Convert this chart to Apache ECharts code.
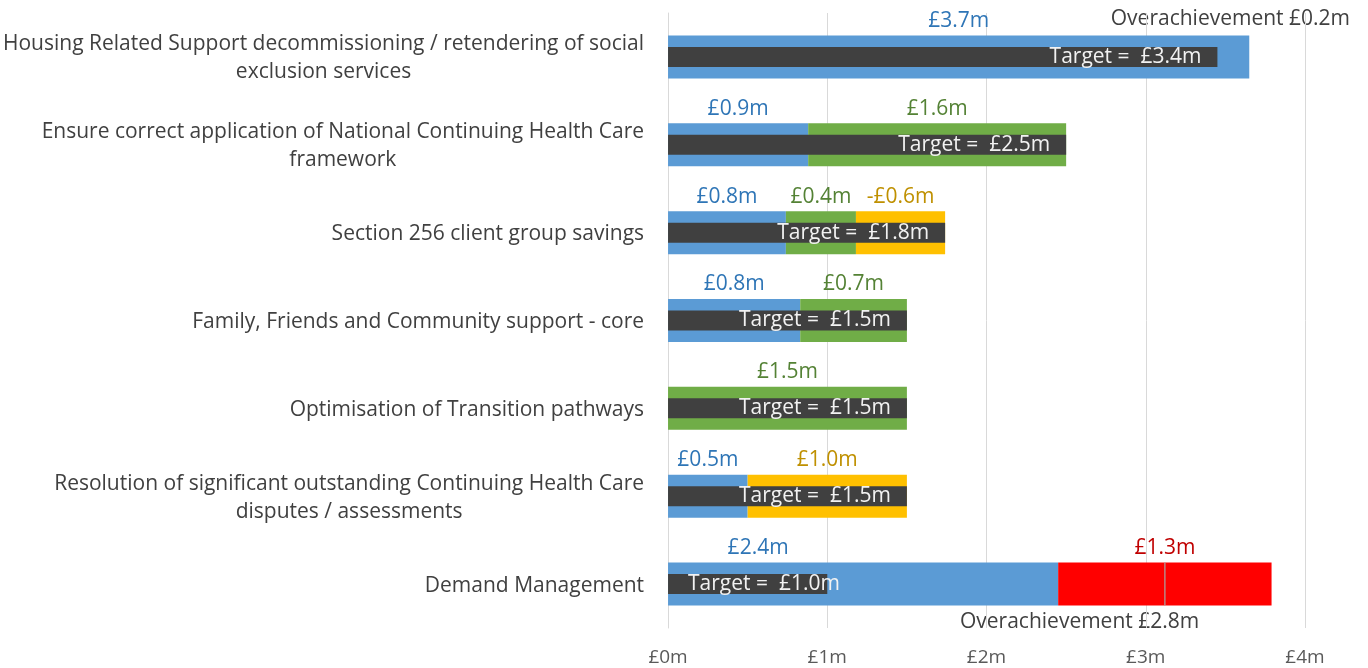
<!DOCTYPE html>
<html>
<head>
<meta charset="utf-8">
<script src="https://cdn.jsdelivr.net/npm/echarts@6/dist/echarts.min.js"></script>
<style>
  html, body { margin: 0; padding: 0; background: #fff; }
  #chart { width: 1368px; height: 668px; }
</style>
</head>
<body>
<div id="chart"></div>
<script>
var categories = [
  'Housing Related Support decommissioning / retendering of social\nexclusion services',
  'Ensure correct application of National Continuing Health Care\nframework',
  'Section 256 client group savings',
  'Family, Friends and Community support - core',
  'Optimisation of Transition pathways',
  'Resolution of significant outstanding Continuing Health Care\ndisputes / assessments',
  'Demand Management'
]

// £m
var blueValues = [3.65, 0.88, 0.74, 0.83, null, 0.5, 2.45]
var greenValues = [null, 1.62, 0.44, 0.67, 1.5, null, null]
var yellowValues = [null, null, 0.56, null, null, 1.0, null]
var redValues = [null, null, null, null, null, null, 1.34]
var targetValues = [3.45, 2.5, 1.74, 1.5, 1.5, 1.5, 1.0]

var blueLabels = ['£3.7m', '£0.9m', '£0.8m', '£0.8m', '', '£0.5m', '£2.4m']
var greenLabels = ['', '£1.6m', '£0.4m', '£0.7m', '£1.5m', '', '']
var yellowLabels = ['', '', '-£0.6m', '', '', '£1.0m', '']
var redLabels = ['', '', '', '', '', '', '£1.3m']
var targetLabels = ['£3.4m', '£2.5m', '£1.8m', '£1.5m', '£1.5m', '£1.5m', '£1.0m']

var tickLabels = ['£0m', '£1m', '£2m', '£3m', '£4m']

// thin grey marker inside the red bar
var markerPoints = [[3.12, 'Demand Management']]

var FONT = 'Open Sans'
var SIZE = 21

var chart = echarts.init(document.getElementById('chart'))

function segment(name, values, labels, color, textColor) {
  return {
    name: name,
    type: 'bar',
    stack: 'actual',
    barWidth: 43,
    yAxisIndex: 0,
    itemStyle: { color: color },
    label: {
      show: true,
      position: 'top',
      distance: 4,
      color: textColor,
      fontFamily: FONT,
      fontSize: SIZE,
      formatter: function(p) {
        return labels[p.dataIndex]
      }
    },
    data: values.map(function(v, i) {
      // the Demand Management blue label sits left of its segment centre
      if (name === 'blue' && i === 6) {
        return { value: v, label: { offset: [-105, 0] } }
      }
      return v
    })
  }
}

chart.setOption({
  animation: false,
  grid: {
    left: 667,
    right: 63,
    top: 13,
    bottom: 40
  },
  xAxis: {
    type: 'value',
    min: 0,
    max: 4,
    interval: 1,
    axisLine: { show: false },
    axisTick: { show: false },
    splitLine: { lineStyle: { color: '#d9d9d9', width: 1 } },
    axisLabel: {
      margin: 20,
      color: '#595959',
      fontFamily: FONT,
      fontSize: 19,
      formatter: function(v) {
        return tickLabels[Math.round(v)]
      }
    }
  },
  yAxis: [{
    type: 'category',
    inverse: true,
    data: categories,
    axisLine: { lineStyle: { color: '#d9d9d9' } },
    axisTick: { length: 7, lineStyle: { color: '#d9d9d9' } },
    axisLabel: {
      margin: 24,
      color: '#404040',
      fontFamily: FONT,
      fontSize: SIZE,
      lineHeight: 28,
      padding: [3, 0, 0, 0],
      formatter: function(v) {
        return v.split('\n').map(function(s) {
          return '{c|' + s + '}'
        }).join('\n')
      },
      rich: {
        c: { align: 'center', color: '#404040', fontFamily: FONT, fontSize: SIZE, lineHeight: 28 }
      }
    }
  }, {
    type: 'category',
    inverse: true,
    show: false,
    data: categories
  }],
  graphic: [{
    type: 'text',
    right: 18,
    top: 9,
    style: { text: 'Overachievement £0.2m', fill: '#404040', font: SIZE + 'px "Open Sans"' }
  }, {
    type: 'text',
    left: 960,
    top: 612,
    style: { text: 'Overachievement £2.8m', fill: '#404040', font: SIZE + 'px "Open Sans"' }
  }],
  series: [
    segment('blue', blueValues, blueLabels, '#5b9bd5', '#2e75b6'),
    segment('green', greenValues, greenLabels, '#70ad47', '#548235'),
    segment('yellow', yellowValues, yellowLabels, '#ffc000', '#bf9000'),
    segment('red', redValues, redLabels, '#ff0000', '#c00000'),
    {
      name: 'target',
      type: 'bar',
      yAxisIndex: 1,
      barWidth: 20,
      itemStyle: { color: '#404040' },
      label: {
        show: true,
        position: 'insideRight',
        distance: 16,
        color: '#f2f2f2',
        fontFamily: FONT,
        fontSize: SIZE,
        formatter: function(p) {
          return 'Target =  ' + targetLabels[p.dataIndex]
        }
      },
      data: targetValues.map(function(v, i) {
        if (i === 6) {
          return { value: v, label: { position: 'insideLeft', distance: 20 } }
        }
        return v
      })
    },
    {
      name: 'marker',
      type: 'scatter',
      yAxisIndex: 0,
      symbol: 'rect',
      symbolSize: [1.5, 43],
      itemStyle: { color: '#a6a6a6' },
      z: 3,
      data: markerPoints
    }
  ]
})
</script>
</body>
</html>
